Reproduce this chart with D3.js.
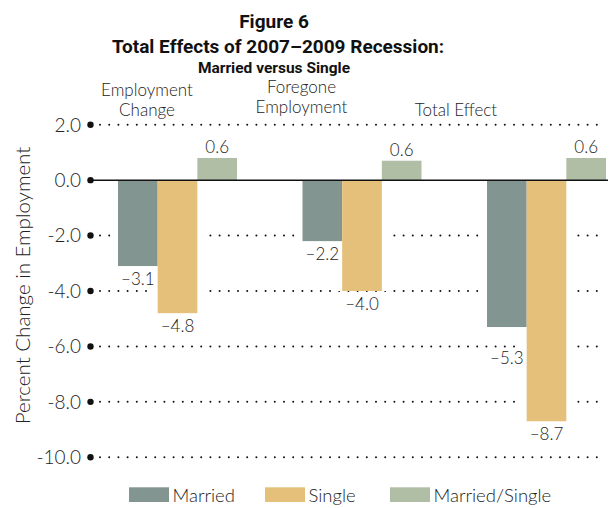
<!DOCTYPE html>
<html><head><meta charset="utf-8">
<script src="https://cdn.jsdelivr.net/npm/d3@7"></script>
<style>
body{margin:0;background:#fff}
svg{display:block}
</style></head>
<body>
<svg id="c" width="616" height="508"></svg>
<script>
const categories = ["Employment Change", "Foregone Employment", "Total Effect"];
const categoryLines = [["Employment", "Change"], ["Foregone", "Employment"], ["Total Effect"]];
const seriesNames = ["Married", "Single", "Married/Single"];
const married = [-3.1, -2.2, -5.3];
const single = [-4.8, -4.0, -8.7];
const ratio = [0.8, 0.7, 0.8];           // bar heights as drawn
const marriedLabels = ["\u20133.1", "\u20132.2", "\u20135.3"];
const singleLabels = ["\u20134.8", "\u20134.0", "\u20138.7"];
const ratioLabels = ["0.6", "0.6", "0.6"];
const yTicks = [2, 0, -2, -4, -6, -8, -10];
const colors = ["#839591", "#E5C07A", "#B1BEA6"];

const seriesValues = [married, single, ratio];
const seriesLabels = [marriedLabels, singleLabels, ratioLabels];

const svg = d3.select("#c");
const FONT = "Lato, 'Open Sans', sans-serif";
const FW = 300;
const TFONT = "'Liberation Sans Narrow', 'Roboto', sans-serif";

const y = d3.scaleLinear().domain([-10, 2]).range([457.3, 124.7]);
const x = d3.scaleBand().domain(categories).range([118, 606]).paddingInner(0.355).paddingOuter(0);
const xs = d3.scaleBand().domain(seriesNames).range([0, x.bandwidth()]);
const color = d3.scaleOrdinal().domain(seriesNames).range(colors);

// Title
const title = svg.append("g").attr("font-family", TFONT).attr("font-weight", "bold")
  .attr("text-anchor", "middle").attr("fill", "#111");
title.append("text").attr("x", 274).attr("y", 28).attr("font-size", 19).text("Figure 6");
title.append("text").attr("x", 278).attr("y", 53).attr("font-size", 19).text("Total Effects of 2007\u20132009 Recession:");
title.append("text").attr("x", 274).attr("y", 73).attr("font-size", 15.5).text("Married versus Single");

// Category labels
const catPos = d3.scalePoint().domain(categories).range([147, 456]);
categories.forEach((c, i) => {
  const lines = categoryLines[i];
  const t = svg.append("text").attr("font-family", FONT).attr("font-weight", FW).attr("font-size", 17).attr("fill", "#222")
    .attr("text-anchor", "middle");
  const base = i === 1 ? 113 : 116;
  lines.forEach((l, j) => {
    t.append("tspan").attr("x", catPos(c)).attr("y", base - (lines.length - 1 - j) * 20).text(l);
  });
});

// Grid lines
const gridG = svg.append("g");
yTicks.filter(d => d !== 0).forEach(d => {
  gridG.append("line").attr("x1", 100).attr("x2", 606).attr("y1", y(d)).attr("y2", y(d))
    .attr("stroke", "#111").attr("stroke-width", 2).attr("stroke-linecap", "round")
    .attr("stroke-dasharray", "0,9.2");
});

// White gaps around bars
const groups = svg.append("g");
seriesNames.forEach((s, si) => {
  categories.forEach((c, ci) => {
    const v = seriesValues[si][ci];
    groups.append("rect")
      .attr("x", x(c) + xs(s) - 5).attr("width", xs.bandwidth() + 10)
      .attr("y", Math.min(y(v), y(0))).attr("height", Math.abs(y(v) - y(0)))
      .attr("fill", "#fff");
  });
});
// Bars
seriesNames.forEach((s, si) => {
  categories.forEach((c, ci) => {
    const v = seriesValues[si][ci];
    groups.append("rect")
      .attr("x", x(c) + xs(s)).attr("width", xs.bandwidth())
      .attr("y", Math.min(y(v), y(0))).attr("height", Math.abs(y(v) - y(0)))
      .attr("fill", color(s));
    const lbl = seriesLabels[si][ci];
    let ly = v >= 0 ? y(v) - 5 : y(v) + 19;
    if (v < 0) {
      // push label below a gridline it would collide with
      yTicks.forEach(t => { const ty = y(t); if (ty > ly - 13 && ty < ly + 2) ly = ty + 18; });
    }
    groups.append("text")
      .attr("x", x(c) + xs(s) + xs.bandwidth() / 2)
      .attr("y", ly)
      .attr("text-anchor", "middle").attr("font-family", FONT).attr("font-weight", FW).attr("font-size", 17)
      .attr("fill", "#222").text(lbl);
  });
});

// Zero line
svg.append("line").attr("x1", 92).attr("x2", 608).attr("y1", y(0)).attr("y2", y(0))
  .attr("stroke", "#111").attr("stroke-width", 1.5);

// Y axis dots and labels
const axisG = svg.append("g");
yTicks.forEach(d => {
  axisG.append("circle").attr("cx", 90.5).attr("cy", y(d)).attr("r", 3.2).attr("fill", "#111");
  axisG.append("text").attr("x", 81).attr("y", y(d)).attr("dy", "0.36em")
    .attr("text-anchor", "end").attr("font-family", FONT).attr("font-weight", FW).attr("font-size", 19).attr("fill", "#222")
    .text(d3.format(".1f")(d).replace("\u2212", "-"));
});

// Y axis title
svg.append("text").attr("transform", "translate(30,285.5) rotate(-90)")
  .attr("text-anchor", "middle").attr("font-family", FONT).attr("font-weight", FW).attr("font-size", 20.5).attr("fill", "#222")
  .text("Percent Change in Employment");

// Legend
const legendX = [129, 265, 390];
const leg = svg.append("g");
seriesNames.forEach((s, i) => {
  leg.append("rect").attr("x", legendX[i]).attr("y", 487.3).attr("width", 40).attr("height", 14.7).attr("fill", color(s));
  leg.append("text").attr("x", legendX[i] + 43.5).attr("y", 502).attr("font-family", FONT).attr("font-weight", FW)
    .attr("font-size", 18.5).attr("fill", "#222").text(s);
});
</script>
</body></html>
